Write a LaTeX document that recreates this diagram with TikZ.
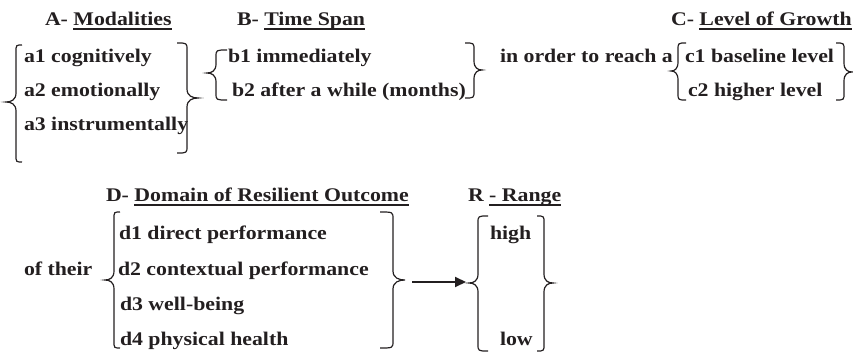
\documentclass[tikz,border=0pt]{standalone}
\usepackage{fontspec}
\setmainfont{Liberation Serif}[FakeStretch=1.13]
\usetikzlibrary{arrows.meta}

\definecolor{ink}{HTML}{231F20}

% heading underline: a thick rule under the given text
\newcommand{\headul}[1]{\setbox0\hbox{#1}\rlap{\rule[-4pt]{\wd0}{1.6pt}}\box0}

% curly brace: #1 end x, #2 stem x, #3 tip x, #4 top y, #5 tip y, #6 bottom y
\newcommand{\curly}[6]{%
  \draw[bracestroke] (#1,#4) .. controls (#2,#4) .. (#2,#4+7)
    -- (#2,#5-9) .. controls (#2,#5-2) and ({(#2+#3)/2},#5) .. (#3,#5)
    .. controls ({(#2+#3)/2},#5) and (#2,#5+2) .. (#2,#5+9)
    -- (#2,#6-7) .. controls (#2,#6) .. (#1,#6);}

\begin{document}
\begin{tikzpicture}[x=1pt,y=-1pt,
  every node/.style={inner sep=0pt,outer sep=0pt,anchor=base west,text=ink,
    font=\fontsize{19.3}{22}\selectfont\bfseries},
  bracestroke/.style={draw=ink,line width=1.2pt},
  arrowline/.style={draw=ink,line width=2pt,-{Triangle[length=11pt,width=10pt]}}]
\useasboundingbox (0,0) rectangle (853,355);

% headings
\node (hA) at (45,26) {A- \headul{Modalities}};
\node (hB) at (237,26) {B- \headul{Time Span}};
\node (hC) at (671,26) {C- \headul{Level of Growth}};
\node (hD) at (106,202) {D- \headul{Domain of Resilient Outcome}};
\node (hR) at (468,202) {R \headul{- Range}};

% A: modalities
\node (a1) at (24,63) {a1 cognitively};
\node (a2) at (24,97) {a2 emotionally};
\node (a3) at (24,131) {a3 instrumentally};
\curly{22}{16}{6}{45}{102}{162}
\curly{177}{187}{198}{43}{98}{153}

% B: time span
\node (b1) at (228,63) {b1 immediately};
\node (b2) at (232,97) {b2 after a while (months)};
\curly{227}{216}{207}{50}{73}{100}
\curly{465}{474}{482}{43}{70}{98}

\node (reach) at (500,63) {in order to reach a};

% C: level of growth
\node (c1) at (685,63) {c1 baseline level};
\node (c2) at (688,97) {c2 higher level};
\curly{686}{678}{671}{43}{71}{100}
\curly{836}{844}{852}{43}{72}{100}

% D: domain of resilient outcome
\node (their) at (24,275) {of their};
\node (d1) at (119,240) {d1 direct performance};
\node (d2) at (118,275) {d2 contextual performance};
\node (d3) at (120,310) {d3 well-being};
\node (d4) at (120,345) {d4 physical health};
\curly{120}{114}{105}{212}{280}{348}
\curly{380}{393}{405}{212}{280}{348}

% R: range
\node (high) at (490,240) {high};
\node (low) at (500,345) {low};
\curly{488}{478}{469}{216}{283}{351}
\curly{537}{544}{553}{216}{283}{351}

% arrow from the outcome brace to the range brace
\coordinate (dtip) at (405,282);
\coordinate (rtip) at (469,282);
\draw[arrowline] ([xshift=7pt]dtip) -- ([xshift=-3pt]rtip);
\end{tikzpicture}
\end{document}
